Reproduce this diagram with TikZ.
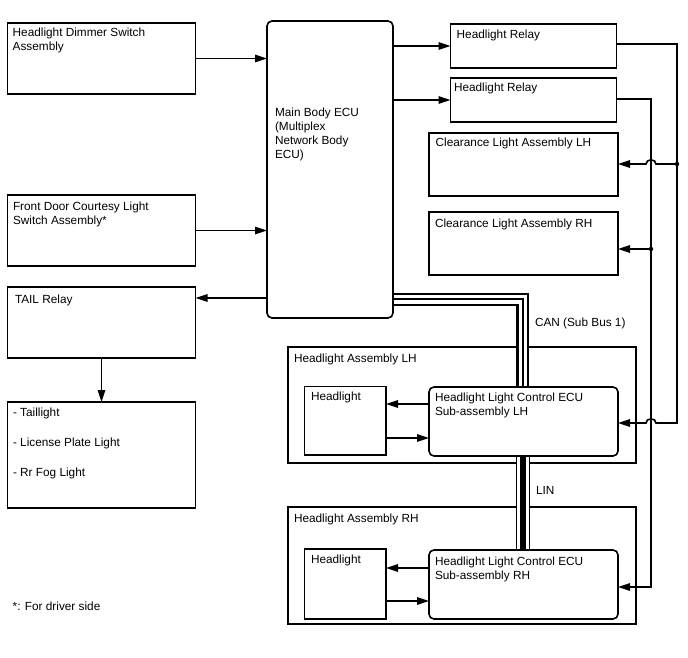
\documentclass[tikz,border=0pt]{standalone}
\usepackage{fontspec}
\setmainfont{Liberation Sans}
\usetikzlibrary{arrows.meta}
\pgfdeclarelayer{asm}
\pgfdeclarelayer{bus}
\pgfsetlayers{asm,bus,main}
\begin{document}
\begin{tikzpicture}[x=1pt,y=-1pt,
  box/.style={draw, line width=1.6pt, anchor=north west, inner sep=0pt, outer sep=0pt},
  rbox/.style={box, rounded corners=5pt},
  txt/.style={anchor=north west, inner sep=0pt, outer sep=0pt, align=left, font=\fontsize{11.8}{14}\selectfont},
  arr/.style={line width=1.6pt, -{Triangle[length=12pt,width=7.5pt]}},
  dot/.style={circle, fill, inner sep=0pt, minimum size=4.4pt},
  canbus/.style={line width=13pt, postaction={draw,white,line width=8.4pt}, postaction={draw,black,line width=2pt}},
  linbus/.style={line width=14pt, postaction={draw,white,line width=11.4pt}, postaction={draw,black,line width=5.8pt}},
]
\useasboundingbox (0,0) rectangle (688,658);

% assemblies (bottom layer)
\begin{pgfonlayer}{asm}
\node[box, minimum width=348pt, minimum height=116pt] (hlaL) at (288,347) {};
\node[box, minimum width=348pt, minimum height=117pt] (hlaR) at (288,507) {};
\end{pgfonlayer}

% boxes
\node[box, minimum width=188pt, minimum height=71pt] (dimmer) at (7.5,23) {};
\node[box, minimum width=188pt, minimum height=71pt] (door) at (7.5,195) {};
\node[box, minimum width=188pt, minimum height=71pt] (tail) at (7.5,287) {};
\node[box, minimum width=188pt, minimum height=106pt] (lamps) at (7.5,402) {};
\node[rbox, minimum width=126pt, minimum height=297pt] (ecu) at (267,21) {};
\node[box, minimum width=166pt, minimum height=44pt] (relay1) at (450.5,24) {};
\node[box, minimum width=166pt, minimum height=44pt] (relay2) at (450.5,78) {};
\node[box, minimum width=189pt, minimum height=63pt] (clrL) at (429,133) {};
\node[box, minimum width=189pt, minimum height=63pt] (clrR) at (429,212) {};
\node[box, minimum width=81.5pt, minimum height=68.5pt] (hlL) at (304.5,386.5) {};
\node[rbox, minimum width=189pt, minimum height=69pt] (ecuL) at (429,387) {};
\node[box, minimum width=81.5pt, minimum height=70pt] (hlR) at (304.5,549) {};
\node[rbox, minimum width=189pt, minimum height=69pt] (ecuR) at (429,550) {};

% texts
\node[txt] (dimmerT) at (12.7,27.7) {Headlight Dimmer Switch\\Assembly};
\node[txt] (doorT) at (13,201.7) {Front Door Courtesy Light\\Switch Assembly*};
\node[txt] (tailT) at (15,295) {TAIL Relay};
\node[txt, font=\fontsize{11.8}{30}\selectfont] (lampsT) at (13,408) {- Taillight\\- License Plate Light\\- Rr Fog Light};
\node[txt] (ecuT) at (275,108.3) {Main Body ECU\\(Multiplex\\Network Body\\ECU)};
\node[txt] (relay1T) at (456.7,30) {Headlight Relay};
\node[txt] (relay2T) at (454,82.7) {Headlight Relay};
\node[txt] (clrLT) at (435.7,138) {Clearance Light Assembly LH};
\node[txt] (clrRT) at (435,219) {Clearance Light Assembly RH};
\node[txt] (hlaLT) at (294,354) {Headlight Assembly LH};
\node[txt] (hlaRT) at (294,514) {Headlight Assembly RH};
\node[txt] (hlLT) at (311,392) {Headlight};
\node[txt] (hlRT) at (311,555) {Headlight};
\node[txt] (ecuLT) at (435,393) {Headlight Light Control ECU\\Sub-assembly LH};
\node[txt] (ecuRT) at (435,557) {Headlight Light Control ECU\\Sub-assembly RH};
\node[txt] (canT) at (535,318) {CAN (Sub Bus 1)};
\node[txt] (linT) at (536,486.7) {LIN};
\node[txt] (noteT) at (12.7,601.7) {*: For driver side};

% buses
\begin{pgfonlayer}{bus}
\draw[canbus] (ecu.east |- 0,299.3) -- (522.7,299.3) -- (ecuL.north -| 522.7,0);
\draw[linbus] (ecuL.south -| 522.8,0) -- (ecuR.north -| 522.8,0);
\end{pgfonlayer}

% connectors
\draw[arr] (dimmer.east) -- (dimmer.east -| ecu.west);
\draw[arr] (door.east) -- (door.east -| ecu.west);
\draw[arr] (ecu.west |- 0,298) -- (tail.east |- 0,298);
\draw[arr] (tail.south) -- (lamps.north);
\draw[arr] (ecu.east |- relay1.west) -- (relay1.west);
\draw[arr] (ecu.east |- relay2.west) -- (relay2.west);

\coordinate (bA) at (677,164);
\coordinate (bB) at (651,249);
\draw[arr] (relay1.east |- 0,44) -- (677,44) -- (677,423) -- (656,423)
  .. controls (656,417.5) and (646,417.5) .. (646,423) -- (ecuL.east |- 0,423);
\draw[arr] (bA) -- (656,164) .. controls (656,158.5) and (646,158.5) .. (646,164) -- (clrL.east |- bA);
\draw[arr] (relay2.east |- 0,99) -- (651,99) -- (651,587) -- (ecuR.east |- 0,587);
\draw[arr] (bB) -- (clrR.east |- bB);
\node[dot] (dA) at (bA) {};
\node[dot] (dB) at (bB) {};

\draw[arr] (ecuL.west |- 0,404) -- (hlL.east |- 0,404);
\draw[arr] (hlL.east |- 0,438) -- (ecuL.west |- 0,438);
\draw[arr] (ecuR.west |- 0,568) -- (hlR.east |- 0,568);
\draw[arr] (hlR.east |- 0,601) -- (ecuR.west |- 0,601);
\end{tikzpicture}
\end{document}
